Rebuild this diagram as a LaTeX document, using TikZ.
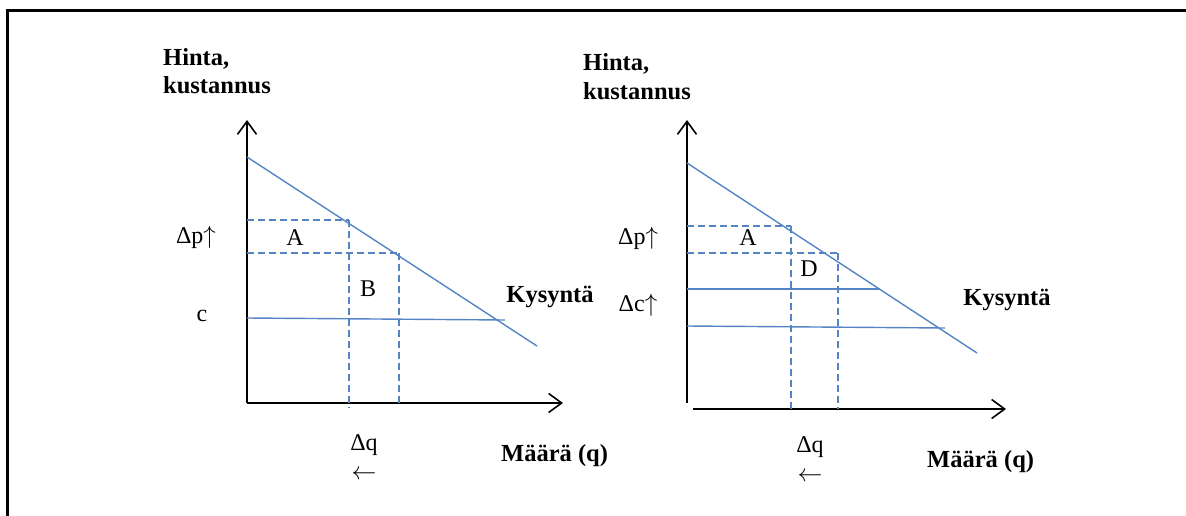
\documentclass[tikz,border=0pt]{standalone}
\usepackage{fontspec}
\setmainfont{Liberation Serif}
\usetikzlibrary{arrows.meta}
\definecolor{lineblue}{RGB}{84,132,196}
\tikzset{
  axis/.style={line width=1.8pt, black, -{Straight Barb[length=13pt,width=19pt,line width=1.6pt]}},
  curve/.style={line width=1.4pt, lineblue},
  guide/.style={line width=1.4pt, lineblue, dash pattern=on 7pt off 4pt},
  boldlbl/.style={font=\fontsize{24.5}{28}\selectfont\bfseries, inner sep=0pt},
  lbl/.style={font=\fontsize{24}{28}\selectfont, inner sep=0pt},
  dqlbl/.style={font=\fontsize{24}{29}\selectfont, inner sep=0pt, align=center},
  frameline/.style={line width=3pt, black}
}
\begin{document}
\begin{tikzpicture}[x=1pt,y=-1pt]
\useasboundingbox (0,0) rectangle (1186,516);
% frame (top and left edges)
\coordinate (fbl) at (7,516);
\coordinate (ftl) at (7,11);
\coordinate (ftr) at (1186,11);
\draw[frameline] (fbl) -- (ftl) -- (ftr);

% ===== Left chart =====
\coordinate (Lo) at (247,403);
\coordinate (Lyt) at (247,120);
\coordinate (Lxt) at (563,403);
\draw[axis] (Lo) -- (Lyt);
\draw[axis] (Lo) -- (Lxt);
\coordinate (Ld1) at (247,157);
\coordinate (Ld2) at (537,346);
\draw[curve] (Ld1) -- (Ld2);
\coordinate (Lp1a) at (247,220);
\coordinate (Lp1b) at (349,220);
\coordinate (Lp2a) at (247,253);
\coordinate (Lp2b) at (399,253);
\coordinate (Lq1) at (349,408);
\coordinate (Lq2) at (399,403);
\draw[guide] (Lp1a) -- (Lp1b);
\draw[guide] (Lp2a) -- (Lp2b);
\draw[guide] (Lp1b) -- (Lq1);
\draw[guide] (Lp2b) -- (Lq2);
\coordinate (Lc1) at (247,318);
\coordinate (Lc2) at (505,320);
\draw[curve] (Lc1) -- (Lc2);

\node[boldlbl, anchor=base west] (Lhinta) at (163,66) {Hinta,};
\node[boldlbl, anchor=base west] (Lkust) at (163,94) {kustannus};
\node[lbl] (Ldp) at (196,237) {Δp$\uparrow$};
\node[lbl] (Lc) at (202,316) {c};
\node[lbl] (LA) at (295,238) {A};
\node[lbl] (LB) at (368,289) {B};
\node[boldlbl] (Lkys) at (550,297) {Kysyntä};
\node[dqlbl, anchor=north] (Ldq) at (364,434) {Δq\\$\leftarrow$};
\node[boldlbl, anchor=west] (Lmaara) at (501,456) {Määrä (q)};

% ===== Right chart =====
\coordinate (Ro) at (687,403);
\coordinate (Ryt) at (687,120);
\coordinate (Rxs) at (693,409);
\coordinate (Rxt) at (1006,409);
\draw[axis] (Ro) -- (Ryt);
\draw[axis] (Rxs) -- (Rxt);
\coordinate (Rd1) at (687,163);
\coordinate (Rd2) at (977,353);
\draw[curve] (Rd1) -- (Rd2);
\coordinate (Rp1a) at (687,226);
\coordinate (Rp1b) at (791,226);
\coordinate (Rp2a) at (687,253);
\coordinate (Rp2b) at (838,253);
\coordinate (Rq1) at (791,409);
\coordinate (Rq2) at (838,409);
\draw[guide] (Rp1a) -- (Rp1b);
\draw[guide] (Rp2a) -- (Rp2b);
\draw[guide] (Rp1b) -- (Rq1);
\draw[guide] (Rp2b) -- (Rq2);
\coordinate (Rc1a) at (687,289);
\coordinate (Rc1b) at (880,289);
\coordinate (Rc2a) at (687,326);
\coordinate (Rc2b) at (945,328);
\draw[curve] (Rc1a) -- (Rc1b);
\draw[curve] (Rc2a) -- (Rc2b);

\node[boldlbl, anchor=base west] (Rhinta) at (583,71) {Hinta,};
\node[boldlbl, anchor=base west] (Rkust) at (583,100) {kustannus};
\node[lbl] (Rdp) at (638,238) {Δp$\uparrow$};
\node[lbl] (Rdc) at (638,305) {Δc$\uparrow$};
\node[lbl] (RA) at (748,238) {A};
\node[lbl] (RD) at (809,269) {D};
\node[boldlbl] (Rkys) at (1007,300) {Kysyntä};
\node[dqlbl, anchor=north] (Rdq) at (810,436) {Δq\\$\leftarrow$};
\node[boldlbl, anchor=west] (Rmaara) at (927,462) {Määrä (q)};
\end{tikzpicture}
\end{document}
